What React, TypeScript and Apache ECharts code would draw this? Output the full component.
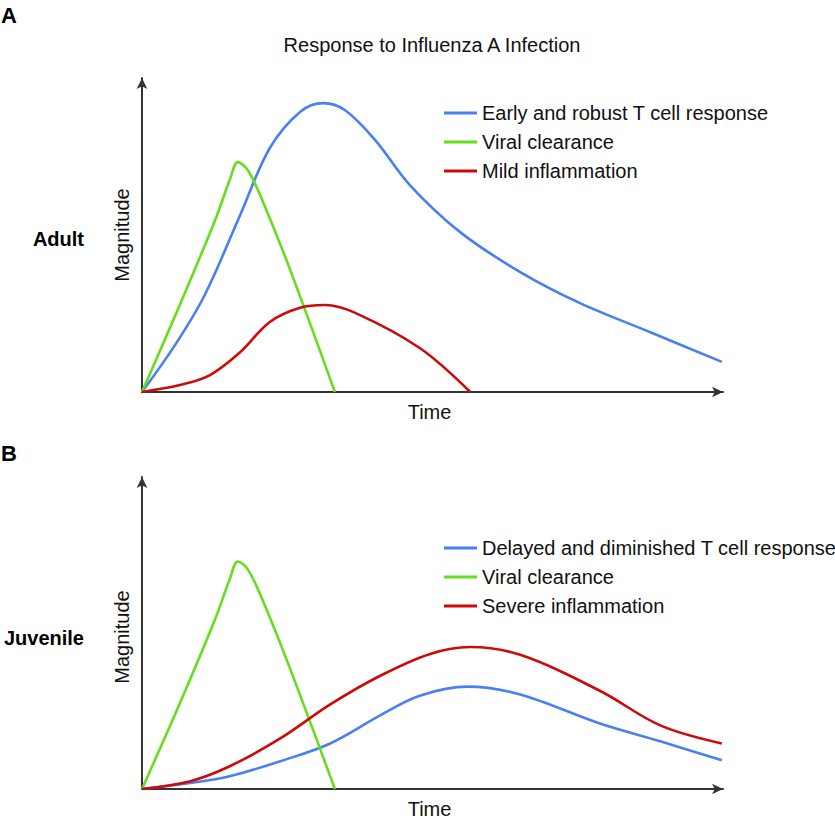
import React, { useEffect, useRef } from "react";
import * as echarts from "echarts";

const FONT = "Liberation Sans";
const BLUE = "#4a7ff4";
const GREEN = "#66dd1e";
const RED = "#cc0a0a";

// Panel A (Adult) – [time, magnitude]
const adultTCell: number[][] = [
  [0, 0], [5.7, 15.0], [10.8, 30.9], [16.9, 56.4], [22.0, 77.7], [27.2, 89.2], [31.2, 92.0],
  [34.9, 89.8], [40.1, 80.3], [46.1, 65.9], [54.7, 51.0], [65.1, 38.2], [75.4, 28.3], [87.4, 19.1], [99.8, 9.6],
];
const adultViral: number[][] = [
  [0, 0], [6.5, 27.7], [12.6, 54.8], [15.1, 67.5], [16.5, 73.2], [18.2, 70.7], [20.7, 61.1], [25.5, 38.9], [33.2, 0],
];
const adultInflam: number[][] = [
  [0, 0], [6.5, 2.2], [11.7, 5.4], [16.9, 12.7], [22.0, 22.3], [27.2, 26.8], [31.5, 27.7], [36.7, 25.2], [47.8, 14.0], [56.5, 0],
];

// Panel B (Juvenile)
const juvViral: number[][] = [
  [0, 0], [6.5, 27.4], [12.6, 54.5], [15.1, 67.2], [16.5, 72.9], [18.2, 70.4], [20.7, 60.8], [25.5, 38.5], [33.2, 0],
];
const juvTCell: number[][] = [
  [0, 0], [8.3, 1.9], [15.1, 4.1], [23.8, 8.9], [32.4, 14.6], [41.0, 23.6], [47.8, 29.9], [56.1, 32.8],
  [65.1, 30.3], [78.8, 21.0], [89.2, 15.3], [99.8, 9.2],
];
const juvInflam: number[][] = [
  [0, 0], [8.3, 2.5], [15.1, 7.3], [23.8, 16.2], [32.4, 27.1], [41.0, 36.3], [49.6, 43.3], [56.5, 45.5],
  [65.1, 43.0], [78.8, 31.5], [89.2, 20.4], [99.8, 14.6],
];

const legendA = ["Early and robust T cell response", "Viral clearance", "Mild inflammation"];
const legendB = ["Delayed and diminished T cell response", "Viral clearance ", "Severe inflammation"];

export default function App() {
  const ref = useRef<HTMLDivElement>(null);
  useEffect(() => {
    if (!ref.current) return;
    const chart = echarts.init(ref.current, null, { renderer: "svg" });
    const axisLine = {
      show: true,
      symbol: ["none", "arrow"],
      symbolSize: [8, 11],
      lineStyle: { color: "#333", width: 2 },
    };
    const mkX = (i: number) => ({
      type: "value", gridIndex: i, min: 0, max: 100,
      name: "Time", nameLocation: "middle", nameGap: 10,
      nameTextStyle: { fontFamily: FONT, fontSize: 20, color: "#111", padding: [0, 6, 0, 0] },
      axisLine, axisTick: { show: false }, axisLabel: { show: false }, splitLine: { show: false },
    });
    const mkY = (i: number) => ({
      type: "value", gridIndex: i, min: 0, max: 100,
      name: "Magnitude", nameLocation: "middle", nameGap: 10, nameRotate: 90,
      nameTextStyle: { fontFamily: FONT, fontSize: 20, color: "#111", padding: i === 1 ? [0, 8, 0, 0] : 0 },
      axisLine, axisTick: { show: false }, axisLabel: { show: false }, splitLine: { show: false },
    });
    const mkS = (name: string, data: number[][], color: string, i: number) => ({
      name, type: "line", data, xAxisIndex: i, yAxisIndex: i,
      smooth: 0.35, showSymbol: false, symbol: "none",
      lineStyle: { color, width: 2.6 }, itemStyle: { color },
    });
    const legendCommon = {
      orient: "vertical", left: 439, itemWidth: 33, itemHeight: 3, itemGap: 7, icon: "rect",
      textStyle: { fontFamily: FONT, fontSize: 20, color: "#111", lineHeight: 22 },
      selectedMode: false,
    };
    chart.setOption({
      animation: false,
      backgroundColor: "#fff",
      grid: [
        { left: 142, right: 112, top: 78, height: 314 },
        { left: 142, right: 112, top: 477, height: 314 },
      ],
      xAxis: [mkX(0), mkX(1)],
      yAxis: [mkY(0), mkY(1)],
      legend: [
        { ...legendCommon, top: 97, data: legendA },
        { ...legendCommon, top: 532, data: legendB },
      ],
      series: [
        mkS(legendA[0], adultTCell, BLUE, 0),
        mkS(legendA[1], adultViral, GREEN, 0),
        mkS(legendA[2], adultInflam, RED, 0),
        mkS(legendB[0], juvTCell, BLUE, 1),
        mkS(legendB[1], juvViral, GREEN, 1),
        mkS(legendB[2], juvInflam, RED, 1),
      ],
      graphic: [
        { type: "text", left: 1, top: 4, style: { text: "A", fontFamily: FONT, fontSize: 22, fontWeight: "bold", fill: "#000" } },
        { type: "text", left: 1, top: 442, style: { text: "B", fontFamily: FONT, fontSize: 22, fontWeight: "bold", fill: "#000" } },
        { type: "text", x: 432, y: 45, style: { text: "Response to Influenza A Infection", fontFamily: FONT, fontSize: 20, fill: "#111", align: "center", verticalAlign: "middle" } },
        { type: "text", x: 84, y: 239, style: { text: "Adult", fontFamily: FONT, fontSize: 20, fontWeight: "bold", fill: "#000", align: "right", verticalAlign: "middle" } },
        { type: "text", x: 84, y: 638, style: { text: "Juvenile", fontFamily: FONT, fontSize: 20, fontWeight: "bold", fill: "#000", align: "right", verticalAlign: "middle" } },
      ],
    });
    return () => chart.dispose();
  }, []);
  return <div ref={ref} style={{ width: 835, height: 820, position: "absolute", left: 0, top: 0 }} />;
}
